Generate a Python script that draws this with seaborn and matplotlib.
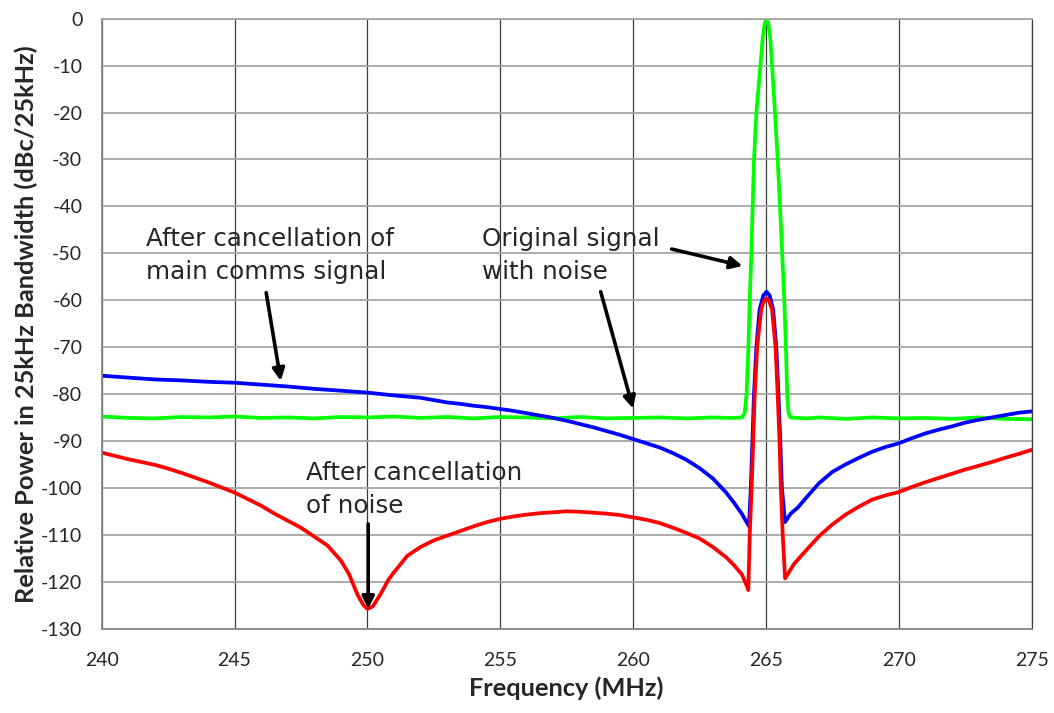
import matplotlib
matplotlib.use("Agg")
import matplotlib.pyplot as plt
import numpy as np
import pandas as pd
import seaborn as sns

# Original signal with noise (green)
green_freq = [240, 241, 242, 243, 244, 245, 246, 247, 248, 249, 250, 251, 252, 253, 254, 255,
              256, 257, 258, 259, 260, 261, 262, 263, 263.7, 264.1, 264.2, 264.27, 264.34, 264.39,
              264.45, 264.5, 264.55, 264.64, 264.79, 264.88, 264.95, 265.02, 265.09, 265.16, 265.23,
              265.34, 265.44, 265.53, 265.61, 265.69, 265.75, 265.8, 265.85, 265.92, 266.5, 267,
              268, 269, 270, 271, 272, 273, 274, 275]
green_db = [-84.8, -85.1, -85.2, -84.9, -85.0, -84.8, -85.1, -85.0, -85.2, -84.9, -85.0, -84.8, -85.1, -84.9, -85.2, -84.9,
            -85.0, -85.2, -84.9, -85.2, -85.1, -85.0, -85.2, -85.0, -85.1, -85.0, -84.0, -80, -70, -60,
            -50, -40, -30, -20, -10, -4, -1, 0, -1, -4, -10,
            -20, -30, -40, -50, -60, -70, -80, -84.0, -85.0, -85.2, -85.0,
            -85.3, -85.0, -85.2, -85.1, -85.3, -85.0, -85.3, -85.4]

# After cancellation of main comms signal (blue)
blue_freq = [240, 241, 242, 243, 244, 245, 246, 247, 248, 249, 250, 251, 252, 252.5, 253, 253.5, 254,
             254.5, 255, 255.5, 256, 256.5, 257, 257.5, 258, 258.5, 259, 259.5, 260, 260.5, 261,
             261.5, 262, 262.5, 263, 263.5, 263.8, 264.1, 264.36,
             264.43, 264.49, 264.55, 264.64, 264.76, 264.9, 265.02, 265.14, 265.27, 265.39, 265.47,
             265.54, 265.6, 265.72, 265.93, 266.2, 266.5, 267, 267.5, 268, 268.5, 269, 269.5, 270,
             270.5, 271, 271.5, 272, 272.5, 273, 273.5, 274, 274.5, 275]
blue_db = [-76.1, -76.5, -76.9, -77.1, -77.4, -77.6, -78.0, -78.4, -78.9, -79.3, -79.7, -80.3, -80.8, -81.3, -81.8, -82.1, -82.5,
           -82.8, -83.2, -83.6, -84.1, -84.6, -85.1, -85.7, -86.4, -87.1, -87.9, -88.7, -89.6, -90.5, -91.4,
           -92.6, -94.0, -95.8, -98.0, -101.0, -103.2, -105.6, -108.2,
           -100, -90, -80, -70, -62, -59, -58.2, -59, -62, -70, -80,
           -90, -100, -107.3, -105.5, -104.2, -102.2, -99.0, -96.6, -95.0, -93.6, -92.3, -91.3, -90.5,
           -89.4, -88.4, -87.6, -86.9, -86.1, -85.5, -85.0, -84.5, -84.0, -83.7]

# After cancellation of noise (red)
red_freq = [240, 240.5, 241, 241.5, 242, 242.5, 243, 243.5, 244, 244.5, 245, 245.5, 246, 246.5,
            247, 247.5, 248, 248.5, 249, 249.3, 249.63, 249.85, 250, 250.2, 250.5, 250.8, 251,
            251.5, 252, 252.5, 253, 253.5, 254, 254.5, 255, 255.5, 256, 256.5, 257, 257.5, 258,
            258.5, 259, 259.5, 260, 260.5, 261, 261.5, 262, 262.5, 263, 263.5, 263.8, 264.1, 264.3,
            264.336, 264.39, 264.46, 264.52, 264.57, 264.67, 264.82, 264.92, 265.02, 265.12, 265.23,
            265.36, 265.44, 265.51, 265.56, 265.63, 265.72, 266.06, 266.5, 267, 267.5, 268, 268.5,
            269, 269.5, 270, 270.5, 271, 271.5, 272, 272.5, 273, 273.5, 274, 274.5, 275]
red_db = [-92.5, -93.2, -93.9, -94.5, -95.1, -95.9, -96.8, -97.8, -98.8, -99.9, -101.0, -102.4, -103.8, -105.5,
          -107.0, -108.5, -110.4, -112.3, -115.5, -118.3, -122.8, -125.0, -125.8, -125.3, -122.6, -119.5, -118.0,
          -114.5, -112.6, -111.2, -110.2, -109.2, -108.2, -107.3, -106.6, -106.1, -105.7, -105.4, -105.2, -105.0, -105.1,
          -105.3, -105.5, -105.8, -106.3, -106.8, -107.5, -108.5, -109.6, -110.8, -112.6, -114.8, -116.5, -118.5, -121.2,
          -121.8, -110, -100, -90, -81, -70, -62, -60.2, -59.6, -60.2, -62,
          -70, -80, -90, -100, -110, -119.3, -116.2, -113.4, -110.3, -107.8, -105.7, -104.0,
          -102.5, -101.6, -100.9, -99.8, -98.8, -97.9, -97.0, -96.1, -95.3, -94.5, -93.6, -92.8, -91.9]

trace_names = ["green", "blue", "red"]
trace_colors = ["#00ff00", "#0000ff", "#ff0000"]

df = pd.concat([
    pd.DataFrame({"freq": green_freq, "db": green_db, "trace": "green"}),
    pd.DataFrame({"freq": blue_freq, "db": blue_db, "trace": "blue"}),
    pd.DataFrame({"freq": red_freq, "db": red_db, "trace": "red"}),
], ignore_index=True)

sns.set_style("white")
plt.rcParams["axes.unicode_minus"] = False

fig, ax = plt.subplots(figsize=(10.54, 7.13), dpi=100)
fig.subplots_adjust(left=0.0965, right=0.9788, top=0.9738, bottom=0.1184)

sns.lineplot(data=df, x="freq", y="db", hue="trace", hue_order=trace_names,
             palette=dict(zip(trace_names, trace_colors)), sort=False, estimator=None,
             lw=2.7, legend=False, ax=ax)

ax.set_xlim(240, 275)
ax.set_ylim(-130, 0)
ax.set_xticks(range(240, 276, 5))
ax.set_yticks(range(-130, 1, 10))
ax.set_axisbelow(True)
ax.grid(axis="y", color="#a6a6a6", lw=1.3)
ax.grid(axis="x", color="#3c3c3c", lw=0.9)

for side in ["left", "bottom"]:
    ax.spines[side].set_color("#868686")
    ax.spines[side].set_linewidth(1.3)
ax.spines["top"].set_color("#a6a6a6")
ax.spines["top"].set_linewidth(1.3)
ax.spines["right"].set_color("#3c3c3c")
ax.spines["right"].set_linewidth(0.9)

ax.tick_params(direction="out", length=5, width=1.2, color="#868686", labelsize=14)
ax.tick_params(axis="x", pad=12)
ax.tick_params(axis="y", pad=9)
for lab in ax.get_xticklabels() + ax.get_yticklabels():
    lab.set_fontfamily("Lato")

ax.set_xlabel("Frequency (MHz)", fontsize=18.3, fontweight="bold", family="Lato", labelpad=5)
ax.set_ylabel("Relative Power in 25kHz Bandwidth (dBc/25kHz)", fontsize=18.3,
              fontweight="bold", family="Lato", labelpad=2)

# va="baseline" on multi-line text sits on the last line's baseline
note_kw = dict(fontsize=17.7, family="DejaVu Sans", va="baseline", ha="left", linespacing=1.45)
ax.text(241.66, -55.4, "After cancellation of\nmain comms signal", **note_kw)
ax.text(254.31, -55.4, "Original signal\nwith noise", **note_kw)
ax.text(247.68, -105.3, "After cancellation\nof noise", **note_kw)

arrow_kw = dict(arrowstyle="-|>", color="black", lw=2.6, mutation_scale=18, shrinkA=0, shrinkB=0)
ax.annotate("", xy=(246.74, -77.2), xytext=(246.19, -58.4), arrowprops=arrow_kw)
ax.annotate("", xy=(260.0, -83.1), xytext=(258.78, -58.2), arrowprops=arrow_kw)
ax.annotate("", xy=(264.12, -52.7), xytext=(261.45, -49.1), arrowprops=arrow_kw)
ax.annotate("", xy=(250.03, -125.8), xytext=(250.03, -107.7), arrowprops=arrow_kw)

fig.savefig("out.png", dpi=100)
